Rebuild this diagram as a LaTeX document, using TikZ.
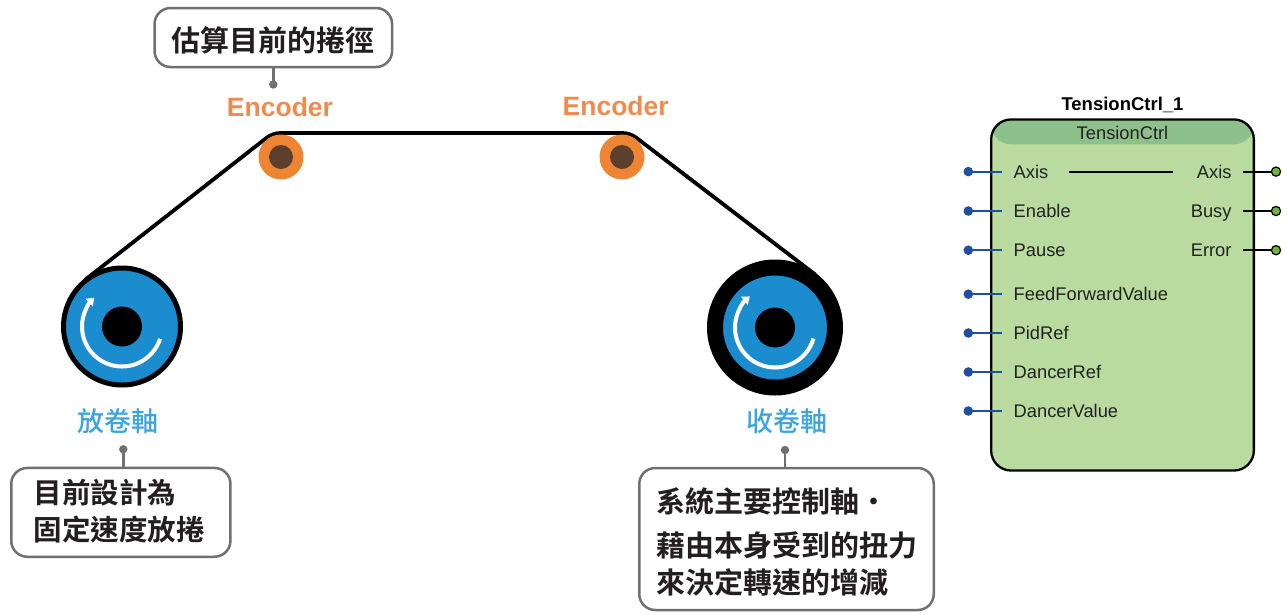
\documentclass[tikz,border=0pt]{standalone}
\usepackage{fontspec}
\setmainfont{Liberation Sans}
\newfontfamily\cjk{Noto Sans CJK TC}[UprightFont={* Medium}]
\newfontfamily\cjkbold{Noto Sans CJK TC}[UprightFont={* Bold}]
\usetikzlibrary{arrows.meta,calc}

\definecolor{calloutgray}{HTML}{707070}
\definecolor{inkblack}{HTML}{231F20}
\definecolor{encorange}{HTML}{EE8535}
\definecolor{enctext}{HTML}{F08B50}
\definecolor{hubbrown}{HTML}{5C3F2C}
\definecolor{reelblue}{HTML}{1B8DCF}
\definecolor{reellabel}{HTML}{3BA5DF}
\definecolor{fbhead}{HTML}{8DC08B}
\definecolor{fbbody}{HTML}{B9DB9F}
\definecolor{pinblue}{HTML}{1F4FA0}
\definecolor{pingreen}{HTML}{6DB43F}

\tikzset{
  callout/.style={draw=calloutgray, line width=2.5pt, rounded corners=16pt, fill=white, inner sep=0pt},
  stem/.style={draw=calloutgray, line width=2.5pt},
  cjktext/.style={font=\cjkbold\fontsize{29}{40}\selectfont, text=inkblack, inner sep=0pt, align=left},
  enclabel/.style={font=\bfseries\fontsize{26.5}{30}\selectfont, text=enctext, inner sep=0pt},
  reellbl/.style={font=\cjk\fontsize{27}{30}\selectfont, text=reellabel, inner sep=0pt},
  portlbl/.style={font=\fontsize{18.3}{22}\selectfont, text=black!87, inner sep=0pt},
  belt/.style={draw=black, line width=3.8pt},
  spin/.style={draw=white, line width=4pt, -{Triangle[length=7pt,width=10pt]}},
  fblock/.style={draw=black, line width=2.3pt, rounded corners=20pt, fill=fbbody, inner sep=0pt,
    path picture={\fill[fbhead] (path picture bounding box.north west) rectangle ([yshift=-24.9pt]path picture bounding box.north east);}},
  inwire/.style={draw=pinblue, line width=2.2pt},
  outwire/.style={draw=black, line width=2.2pt}
}

\begin{document}
\begin{tikzpicture}[x=1pt,y=1pt]
\useasboundingbox (0,0) rectangle (1288,-614);

% reel and roller centres
\coordinate (reelL) at (122,-326.5);
\coordinate (rollL) at (281,-157);
\coordinate (rollR) at (622,-157);
\coordinate (reelR) at (775,-327.5);

% web running over the two encoder rollers
\draw[belt] ($(reelL)+(128.04:59.5)$) -- ($(rollL)+(128.04:24)$)
  arc[start angle=128.04, end angle=90, radius=24pt]
  -- ($(rollR)+(90:24)$)
  arc[start angle=90, end angle=52.59, radius=24pt]
  -- ($(reelR)+(52.59:66.5)$);

% encoder rollers
\fill[encorange] (rollL) circle (22.5pt);
\fill[hubbrown] (rollL) circle (12pt);
\fill[encorange] (rollR) circle (22.5pt);
\fill[hubbrown] (rollR) circle (12pt);
\node[enclabel, anchor=base] (encL) at (280,-116) {Encoder};
\node[enclabel, anchor=base] (encR) at (615.7,-115.5) {Encoder};

% unwind reel (thin roll) and rewind reel (thick roll)
\draw[line width=5pt, fill=reelblue] (reelL) circle (58.5pt);
\fill[black] (reelL) circle (20pt);
\draw[spin] ($(reelL)+(-18:40)$) arc[start angle=-18, end angle=-226, radius=40pt];

\draw[line width=16pt, fill=reelblue] (reelR) circle (60pt);
\fill[black] (reelR) circle (20pt);
\draw[spin] ($(reelR)+(-16:40)$) arc[start angle=-16, end angle=-231, radius=40pt];

\node[reellbl] (lblL) at (118,-421.5) {放卷軸};
\node[reellbl] (lblR) at (787,-421.5) {收卷軸};

% callouts
\node[callout, minimum width=237.5pt, minimum height=59pt] (topbox) at (273.3,-37.5) {};
\node[cjktext] (toptext) at (273.3,-40.8) {估算目前的捲徑};
\coordinate (topdot) at (273.3,-84.5);
\draw[stem] (topbox.south) -- (topdot);
\fill[calloutgray] (topdot) circle (4.2pt);

\node[callout, minimum width=219.2pt, minimum height=88.8pt] (leftbox) at (120.85,-512.35) {};
\node[cjktext, anchor=west, font=\cjkbold\fontsize{28.5}{37}\selectfont] (lefttext) at (33.5,-511) {目前設計為\\固定速度放捲};
\coordinate (leftdot) at (123.3,-449.3);
\draw[stem] (leftbox.north -| leftdot) -- (leftdot);
\fill[calloutgray] (leftdot) circle (4.2pt);

\node[callout, minimum width=294.5pt, minimum height=142pt] (rightbox) at (786.5,-539) {};
\node[cjktext, anchor=west, font=\cjkbold\fontsize{29}{37.5}\selectfont] (righttext) at (656.5,-542) {系統主要控制軸{\cjk ・}\\[6pt]藉由本身受到的扭力\\來決定轉速的增減};
\coordinate (rightdot) at (785,-450);
\draw[stem] (rightbox.north -| rightdot) -- (rightdot);
\fill[calloutgray] (rightdot) circle (4.2pt);

% function block
\node[font=\bfseries\fontsize{18.5}{22}\selectfont, anchor=base, inner sep=0pt] (fbtitle) at (1122.5,-110) {TensionCtrl\_1};
\node[fblock, minimum width=262.7pt, minimum height=351.1pt] (fb) at (1122.5,-295) {};
\node[portlbl, anchor=base] (fbtype) at (1122.5,-139) {TensionCtrl};

\foreach \yy/\pin [count=\i] in {171.6/Axis,211/Enable,250.2/Pause,294.2/FeedForwardValue,333/PidRef,372/DancerRef,411/DancerValue} {
  \node[portlbl, anchor=base west] (in\i) at (1013.5,-\yy-6.6) {\pin};
  \coordinate (ind\i) at (968.3,-\yy);
  \draw[inwire] (ind\i) -- ($(ind\i -| fb.west)+(12,0)$);
  \fill[pinblue] (ind\i) circle (4.8pt);
}

\foreach \yy/\pin [count=\i] in {171.6/Axis,211/Busy,250.2/Error} {
  \node[portlbl, anchor=base east] (out\i) at (1231.7,-\yy-6.6) {\pin};
  \coordinate (outd\i) at (1276,-\yy);
  \draw[outwire] ($(outd\i -| fb.east)+(-12,0)$) -- (outd\i);
  \filldraw[fill=pingreen, draw=black, line width=1.2pt] (outd\i) circle (4.6pt);
}

% Axis passes straight through the block
\draw[line width=2.3pt] ($(in1.east)+(21,0)$) -- ($(out1.west)+(-24,0)$);
\end{tikzpicture}
\end{document}
